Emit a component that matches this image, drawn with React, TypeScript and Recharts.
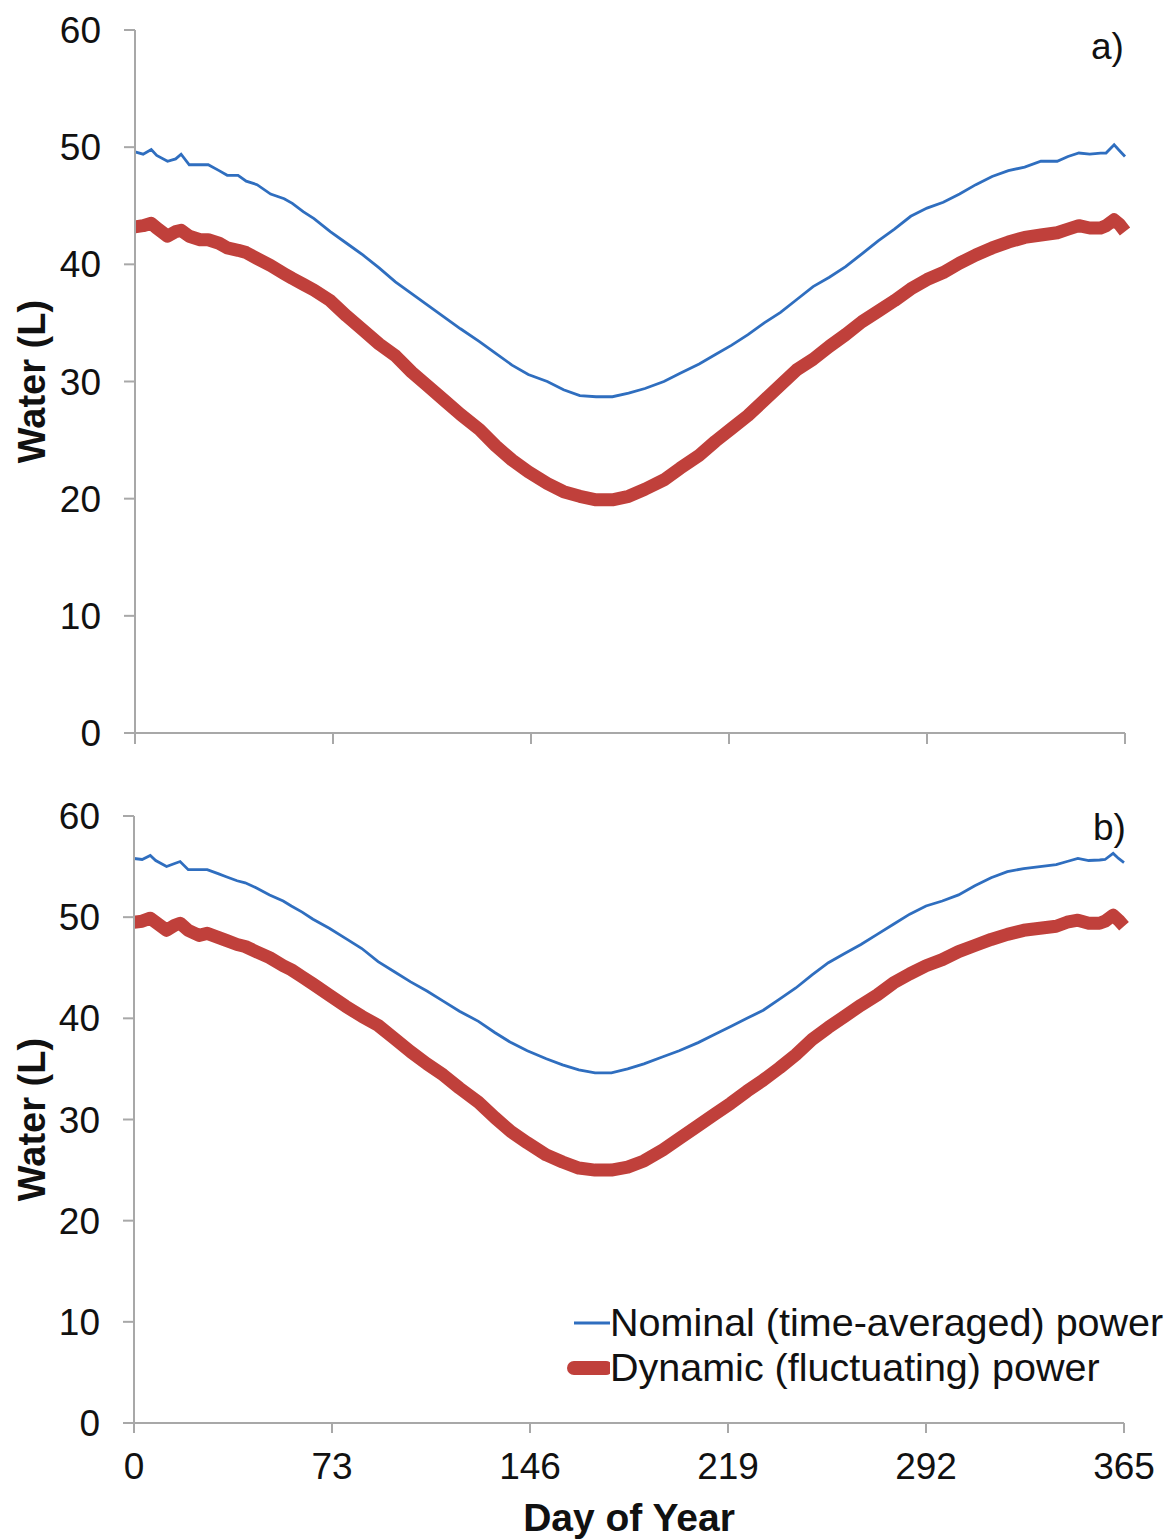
import React from 'react';
import { LineChart, Line, XAxis, YAxis, Legend } from 'recharts';

const days = [0,3,6,8,12,15,17,20,24,27,31,34,38,41,45,50,55,58,62,66,72,78,84,90,96,102,108,114,120,127,133,139,145,152,158,164,170,176,182,188,195,201,208,214,220,226,232,238,244,250,256,262,268,274,280,286,292,298,304,310,316,322,328,334,340,344,348,352,356,358,361,363,365];

const nominalA = [
  49.6, 49.4, 49.8, 49.3, 48.8,
  49.0, 49.4, 48.5, 48.5, 48.5,
  48.0, 47.6, 47.6, 47.1, 46.8,
  46.0, 45.6, 45.2, 44.5, 43.9,
  42.8, 41.8, 40.8, 39.7, 38.5,
  37.5, 36.5, 35.5, 34.5, 33.4,
  32.4, 31.4, 30.6, 30.0, 29.3,
  28.8, 28.7, 28.7, 29.0, 29.4,
  30.0, 30.7, 31.5, 32.3, 33.1,
  34.0, 35.0, 35.9, 37.0, 38.1,
  38.9, 39.8, 40.9, 42.0, 43.0,
  44.1, 44.8, 45.3, 46.0, 46.8,
  47.5, 48.0, 48.3, 48.8, 48.8,
  49.2, 49.5, 49.4, 49.5, 49.5,
  50.2, 49.7, 49.2,
];

const dynamicA = [
  43.2, 43.3, 43.5, 43.1, 42.4,
  42.8, 42.9, 42.4, 42.1, 42.1,
  41.8, 41.4, 41.2, 41.0, 40.5,
  39.9, 39.2, 38.8, 38.3, 37.8,
  36.9, 35.6, 34.4, 33.2, 32.2,
  30.8, 29.6, 28.4, 27.2, 25.9,
  24.5, 23.3, 22.3, 21.3, 20.6,
  20.2, 19.9, 19.9, 20.2, 20.8,
  21.6, 22.6, 23.7, 24.9, 26.0,
  27.1, 28.4, 29.7, 31.0, 31.9,
  33.0, 34.0, 35.1, 36.0, 36.9,
  37.9, 38.7, 39.3, 40.1, 40.8,
  41.4, 41.9, 42.3, 42.5, 42.7,
  43.0, 43.3, 43.1, 43.1, 43.3,
  43.8, 43.4, 42.8,
];

const nominalB = [
  55.8, 55.7, 56.1, 55.6, 55.0,
  55.3, 55.5, 54.7, 54.7, 54.7,
  54.3, 54.0, 53.6, 53.4, 52.9,
  52.2, 51.6, 51.1, 50.5, 49.8,
  48.9, 47.9, 46.9, 45.6, 44.6,
  43.6, 42.7, 41.7, 40.7, 39.7,
  38.6, 37.6, 36.8, 36.0, 35.4,
  34.9, 34.6, 34.6, 35.0, 35.5,
  36.2, 36.8, 37.6, 38.4, 39.2,
  40.0, 40.8, 41.9, 43.0, 44.3,
  45.5, 46.4, 47.3, 48.3, 49.3,
  50.3, 51.1, 51.6, 52.2, 53.1,
  53.9, 54.5, 54.8, 55.0, 55.2,
  55.5, 55.8, 55.6, 55.65, 55.7,
  56.3, 55.8, 55.4,
];

const dynamicB = [
  49.5, 49.6, 49.9, 49.5, 48.7,
  49.2, 49.4, 48.7, 48.2, 48.4,
  48.0, 47.7, 47.3, 47.1, 46.6,
  46.0, 45.2, 44.8, 44.1, 43.4,
  42.3, 41.2, 40.2, 39.3, 38.0,
  36.7, 35.5, 34.4, 33.1, 31.7,
  30.2, 28.8, 27.7, 26.5, 25.8,
  25.2, 25.0, 25.0, 25.3, 25.9,
  27.0, 28.1, 29.4, 30.5, 31.6,
  32.8, 33.9, 35.1, 36.4, 37.9,
  39.1, 40.2, 41.3, 42.3, 43.5,
  44.4, 45.2, 45.8, 46.6, 47.2,
  47.8, 48.3, 48.7, 48.9, 49.1,
  49.5, 49.7, 49.4, 49.4, 49.6,
  50.2, 49.7, 49.1,
];

const xTicks = [0, 73, 146, 219, 292, 365];
const yTicks = [0, 10, 20, 30, 40, 50, 60];
const seriesNames = ['Nominal (time-averaged) power', 'Dynamic (fluctuating) power'];
const panelLabels = ['a)', 'b)'];
const yTitle = 'Water (L)';
const xTitle = 'Day of Year';

const dataA = days.map((d, i) => ({ day: d, nominal: nominalA[i], dynamic: dynamicA[i] }));
const dataB = days.map((d, i) => ({ day: d, nominal: nominalB[i], dynamic: dynamicB[i] }));

const FONT = '"Liberation Sans", Arial, sans-serif';
const BLUE = '#2f6ebf';
const RED = '#c0403b';
const AXIS = '#a8a8a8';

const tickStyle = { fontSize: 37, fill: '#111', fontFamily: FONT };

const LegendContent = () => (
  <div style={{ fontFamily: FONT, fontSize: 39.5, color: '#111' }}>
    <div style={{ display: 'flex', alignItems: 'center', height: 45 }}>
      <svg width={44} height={20} style={{ display: 'block' }}>
        <line x1={8} y1={10} x2={44} y2={10} stroke={BLUE} strokeWidth={3} />
      </svg>
      <span style={{ whiteSpace: 'nowrap', lineHeight: '45px' }}>{seriesNames[0]}</span>
    </div>
    <div style={{ display: 'flex', alignItems: 'center', height: 45 }}>
      <svg width={44} height={20} style={{ display: 'block' }}>
        <line x1={8} y1={10} x2={40} y2={10} stroke={RED} strokeWidth={14} strokeLinecap="round" />
      </svg>
      <span style={{ whiteSpace: 'nowrap', lineHeight: '45px' }}>{seriesNames[1]}</span>
    </div>
  </div>
);

const panelLabelStyle: React.CSSProperties = {
  position: 'absolute',
  fontFamily: FONT,
  fontSize: 37,
  color: '#111',
  lineHeight: 1,
};

const yLabelStyle = { textAnchor: 'middle', fontSize: 38, fontWeight: 'bold', fill: '#111', fontFamily: FONT };

export default function App() {
  return (
    <div style={{ position: 'absolute', left: 0, top: 0, width: 1174, height: 1540, background: '#fff' }}>
      {/* Panel a */}
      <div style={{ position: 'absolute', left: 0, top: 0 }}>
        <LineChart width={1174} height={770} data={dataA} margin={{ top: 30, right: 49, left: 35, bottom: 7 }}>
          <XAxis
            dataKey="day"
            type="number"
            domain={[0, 365]}
            ticks={xTicks}
            tickFormatter={() => ''}
            tick={tickStyle}
            tickSize={11}
            height={30}
            axisLine={{ stroke: AXIS, strokeWidth: 2 }}
            tickLine={{ stroke: AXIS, strokeWidth: 2 }}
          />
          <YAxis
            type="number"
            domain={[0, 60]}
            ticks={yTicks}
            width={100}
            tickSize={11}
            tickMargin={23}
            tick={tickStyle}
            axisLine={{ stroke: AXIS, strokeWidth: 2 }}
            tickLine={{ stroke: AXIS, strokeWidth: 2 }}
            label={{
              value: yTitle,
              angle: -90,
              position: 'insideLeft',
              offset: -3,
              style: yLabelStyle,
            }}
          />
          <Line type="linear" dataKey="dynamic" stroke={RED} strokeWidth={13} dot={false} strokeLinejoin="round" isAnimationActive={false} />
          <Line type="linear" dataKey="nominal" stroke={BLUE} strokeWidth={2.8} dot={false} isAnimationActive={false} />
        </LineChart>
        <div style={{ ...panelLabelStyle, left: 1091, top: 28 }}>{panelLabels[0]}</div>
      </div>

      {/* Panel b */}
      <div style={{ position: 'absolute', left: 0, top: 780 }}>
        <LineChart width={1174} height={760} data={dataB} margin={{ top: 36, right: 50, left: 34, bottom: 7 }}>
          <XAxis
            dataKey="day"
            type="number"
            domain={[0, 365]}
            ticks={xTicks}
            tickSize={10}
            tickMargin={20}
            height={110}
            tick={tickStyle}
            axisLine={{ stroke: AXIS, strokeWidth: 2 }}
            tickLine={{ stroke: AXIS, strokeWidth: 2 }}
            label={{
              value: xTitle,
              position: 'insideBottom',
              offset: 2,
              style: { fontSize: 39, fontWeight: 'bold', fill: '#111', fontFamily: FONT },
            }}
          />
          <YAxis
            type="number"
            domain={[0, 60]}
            ticks={yTicks}
            width={100}
            tickSize={11}
            tickMargin={23}
            tick={tickStyle}
            axisLine={{ stroke: AXIS, strokeWidth: 2 }}
            tickLine={{ stroke: AXIS, strokeWidth: 2 }}
            label={{
              value: yTitle,
              angle: -90,
              position: 'insideLeft',
              offset: -2,
              style: yLabelStyle,
            }}
          />
          <Line type="linear" dataKey="dynamic" name={seriesNames[1]} stroke={RED} strokeWidth={13} dot={false} strokeLinejoin="round" isAnimationActive={false} />
          <Line type="linear" dataKey="nominal" name={seriesNames[0]} stroke={BLUE} strokeWidth={2.8} dot={false} isAnimationActive={false} />
          <Legend
            layout="horizontal"
            verticalAlign="middle"
            align="center"
            content={() => <LegendContent />}
            wrapperStyle={{ left: 566, top: 520, width: 608, height: 90 }}
          />
        </LineChart>
        <div style={{ ...panelLabelStyle, left: 1093, top: 29 }}>{panelLabels[1]}</div>
      </div>
    </div>
  );
}
